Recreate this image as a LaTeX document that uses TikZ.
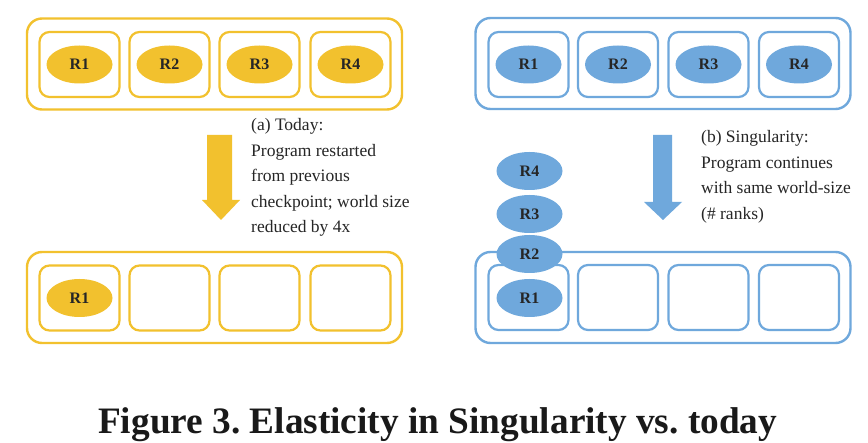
\documentclass[tikz,border=0pt]{standalone}
\usepackage{fontspec}
\setmainfont{Liberation Serif}
\usetikzlibrary{shapes.geometric}
\definecolor{ylw}{HTML}{F2C12E}
\definecolor{blu}{HTML}{6FA8DC}
\frenchspacing
\begin{document}
\begin{tikzpicture}[x=1pt,y=-1pt,
  outerbox/.style={draw=#1,line width=2.4pt,rounded corners=15pt,minimum width=375pt,minimum height=91pt,inner sep=0pt},
  slot/.style={draw=#1,line width=2.2pt,rounded corners=10pt,minimum width=80pt,minimum height=65pt,inner sep=0pt},
  rank/.style={ellipse,fill=#1,minimum width=66pt,minimum height=38pt,inner sep=0pt,font=\fontsize{16}{16}\selectfont\bfseries,text=black!85},
  note/.style={align=left,font=\fontsize{17.5}{25.5}\selectfont,text=black!85,inner sep=0pt}]
\useasboundingbox[fill=white] (0,0) rectangle (868,443);
% top left
\node[outerbox=ylw] (TLo) at (214.5,64) {};
\foreach \i/\x in {1/79.5,2/169.5,3/259.5,4/350.5}{
  \node[slot=ylw] (TLs\i) at (\x,64.5) {};
  \node[rank=ylw] (TLr\i) at (TLs\i.center) {R\i};
}
% bottom left
\node[outerbox=ylw] (BLo) at (214.5,297.5) {};
\foreach \i/\x in {1/79.5,2/169.5,3/259.5,4/350.5}{
  \node[slot=ylw] (BLs\i) at (\x,298) {};
}
\node[rank=ylw] (BLr1) at (BLs1.center) {R1};
% top right
\node[outerbox=blu] (TRo) at (663,63.5) {};
\foreach \i/\x in {1/528.5,2/618,3/708.5,4/799}{
  \node[slot=blu] (TRs\i) at (\x,64.5) {};
  \node[rank=blu] (TRr\i) at (TRs\i.center) {R\i};
}
% bottom right
\node[outerbox=blu] (BRo) at (663,297.5) {};
\foreach \i/\x in {1/528.5,2/618,3/708.5,4/799}{
  \node[slot=blu] (BRs\i) at (\x,297.5) {};
}
\node[rank=blu] (BRr1) at (529.5,298) {R1};
\node[rank=blu] (BRr2) at (529.5,254) {R2};
\node[rank=blu] (BRr3) at (529.5,214) {R3};
\node[rank=blu] (BRr4) at (529.5,171) {R4};
% arrows
\fill[ylw] (207,135) -- (232,135) -- (232,200) -- (240,200) -- (221,220) -- (202,200) -- (207,200) -- cycle;
\fill[blu] (653,135) -- (672,135) -- (672,202) -- (682,202) -- (663,220) -- (644,202) -- (653,202) -- cycle;
% notes (base anchor = last line)
\node[note,anchor=base west] (na) at (251,233) {(a) Today:\\Program restarted\\from previous\\checkpoint; world size\\reduced by 4x};
\node[note,anchor=base west] (nb) at (701,219.5) {(b) Singularity:\\Program continues\\with same world-size\\(\# ranks)};
% caption
\node[anchor=base west,inner sep=0pt,font=\fontsize{37.3}{37.3}\selectfont\bfseries,text=black!90] (cap) at (98,434) {Figure 3. Elasticity in Singularity vs. today};
\end{tikzpicture}
\end{document}
